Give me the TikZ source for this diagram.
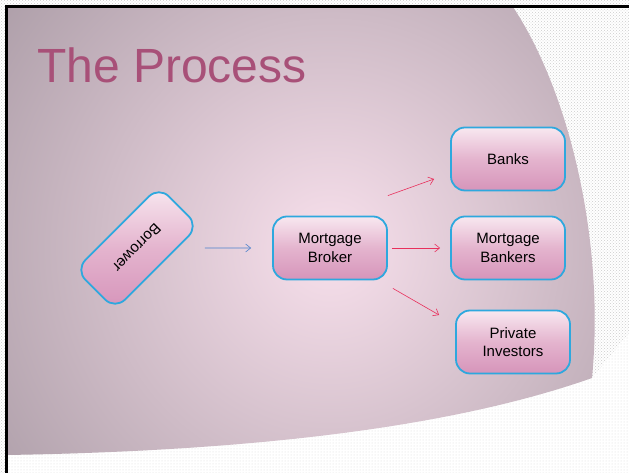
\documentclass[tikz,border=0pt]{standalone}
\usepackage{fontspec}
\setmainfont{Liberation Sans}
\usetikzlibrary{arrows.meta,patterns}
\definecolor{titlepink}{RGB}{168,80,120}
\definecolor{mauve}{RGB}{165,151,161}
\definecolor{blush}{RGB}{248,224,236}
\definecolor{boxtop}{RGB}{248,232,240}
\definecolor{boxmid}{RGB}{228,180,206}
\definecolor{boxbot}{RGB}{214,148,186}
\definecolor{boxline}{RGB}{46,168,222}
\definecolor{linkred}{RGB}{232,48,92}
\definecolor{linkblue}{RGB}{74,128,204}
\tikzset{
  stepbox/.style={draw=boxline, line width=1.8pt, rounded corners=14pt,
    top color=boxtop, bottom color=boxbot, middle color=boxmid,
    minimum width=114pt, minimum height=63pt, align=center,
    font=\fontsize{15}{18.5}\selectfont},
  link/.style={-{Straight Barb[length=5pt,width=8pt]}, line width=0.6pt}
}
\begin{document}
\begin{tikzpicture}[x=1pt,y=1pt]
\useasboundingbox (0,0) rectangle (629,473);
% Hintergrund
\fill[white] (0,0) rectangle (629,473);
\fill[pattern=crosshatch dots, pattern color=gray!40] (0,0) rectangle (629,473);
\fill[white] (7,0) -- (7,18) .. controls (250,22) and (450,45) .. (592,95)
  -- (629,140) -- (629,0) -- cycle;
\fill[pattern=dots, pattern color=gray!30] (7,0) -- (7,18) .. controls (250,22) and (450,45) .. (592,95)
  -- (629,140) -- (629,0) -- cycle;
\begin{scope}
\clip (7,466) -- (513,466) .. controls (570,380) and (605,230) .. (592,95)
  .. controls (450,45) and (250,22) .. (7,18) -- cycle;
\shade[inner color=blush, outer color=mauve] (330,225) circle (460);
\end{scope}
\draw[line width=3pt] (629,466) -- (6,466) -- (6,0);

% Titel
\node[anchor=base west, inner sep=0pt, text=titlepink,
  font=\fontsize{48}{48}\selectfont] (title) at (37,390) {The Process};

% Kaesten
\node[stepbox, minimum width=118pt, minimum height=56pt, rotate=225] (borrower) at (137,225) {Borrower};
\node[stepbox] (broker) at (330,225) {Mortgage\\Broker};
\node[stepbox] (banks) at (508,314) {Banks};
\node[stepbox] (bankers) at (508,225) {Mortgage\\Bankers};
\node[stepbox] (investors) at (513,131) {Private\\Investors};

% Pfeile
\draw[link, linkblue, shorten <=27pt, shorten >=21pt] (borrower) -- (broker);
\draw[link, linkred] ([yshift=20pt]broker.north east) -- ([shift={(-16pt,-20pt)}]banks.west);
\draw[link, linkred, shorten <=4pt, shorten >=10pt] (broker) -- (bankers);
\draw[link, linkred] ([shift={(5pt,-8pt)}]broker.south east) -- ([shift={(-16pt,27pt)}]investors.west);
\end{tikzpicture}
\end{document}
